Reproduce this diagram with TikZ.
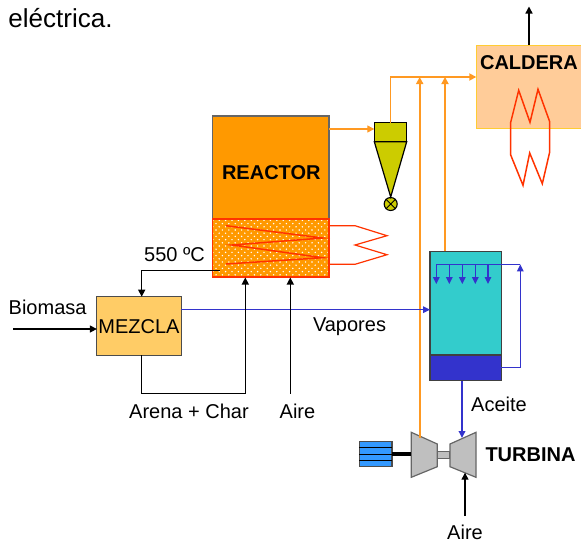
\documentclass[tikz,border=0pt]{standalone}
\usepackage{fontspec}
\setmainfont{Liberation Sans}
\usepackage{xcolor}
\usetikzlibrary{arrows.meta,patterns,calc}
\definecolor{reactorfill}{HTML}{FF9900}
\definecolor{ciclonfill}{HTML}{CCCC00}
\definecolor{calderafill}{HTML}{FFCC99}
\definecolor{calderaline}{HTML}{FFCC33}
\definecolor{mezclafill}{HTML}{FFCC66}
\definecolor{columnafill}{HTML}{33CCCC}
\definecolor{aceitefill}{HTML}{3333CC}
\definecolor{llama}{HTML}{FF3300}
\definecolor{linea}{HTML}{FF9922}
\definecolor{genfill}{HTML}{3399FF}
\pgfdeclarepatternformonly{lecho}{\pgfqpoint{-1pt}{-1pt}}{\pgfqpoint{7pt}{7pt}}{\pgfqpoint{6.4pt}{6.4pt}}{
	\pgfpathcircle{\pgfqpoint{1.6pt}{1.6pt}}{0.8pt}
	\pgfpathcircle{\pgfqpoint{4.8pt}{4.8pt}}{0.8pt}
	\pgfusepath{fill}
}
\tikzset{
	caja/.style={rectangle, draw, inner sep=0pt, outer sep=0pt, line width=1.2pt},
	txt/.style={inner sep=0pt, font=\fontsize{20}{22}\selectfont},
	btxt/.style={txt, font=\fontsize{20}{22}\selectfont\bfseries},
	neg/.style={line width=1.4pt, -{Triangle[length=7pt,width=7pt]}},
	nar/.style={draw=linea, line width=1.7pt, -{Triangle[length=7pt,width=7pt]}},
	azu/.style={draw=aceitefill, line width=1.4pt, -{Triangle[length=7pt,width=6.5pt]}},
	roj/.style={draw=llama, line width=1.5pt, line join=miter},
	turb/.style={draw=black!60, fill=black!25, line width=1.2pt}
}
\begin{document}
\begin{tikzpicture}[x=1pt,y=-1pt]
		\useasboundingbox (0,0) rectangle (581,542);
		% equipos
		\node at (270.7,167.5) [caja, draw=black!60, fill=reactorfill, minimum width=116.5pt, minimum height=103pt] (reactor) {};
		\node at (270.7,248) [caja, draw=none, fill=reactorfill, minimum width=116.5pt, minimum height=58pt] (fondolecho) {};
		\node at (270.7,248) [caja, draw=none, pattern=lecho, pattern color=white, minimum width=116.5pt, minimum height=58pt] (puntos) {};
		\node at (270.7,248) [caja, draw=llama, minimum width=116.5pt, minimum height=58pt] (lecho) {};
		\node at (139,326) [caja, draw=black!70, fill=mezclafill, minimum width=84.3pt, minimum height=58.3pt] (mezcla) {};
		\node at (390.5,132.2) [caja, fill=ciclonfill, minimum width=32.4pt, minimum height=19pt] (ciclon) {};
		\node at (390.7,204) [circle, draw, fill=ciclonfill, line width=1.1pt, inner sep=0pt, minimum size=13pt] (valvula) {};
		\node at (535,87) [caja, draw=calderaline, fill=calderafill, minimum width=117.4pt, minimum height=83.7pt] (caldera) {};
		\node at (465.7,303.2) [caja, draw=black!75, fill=columnafill, minimum width=71.3pt, minimum height=103.7pt] (columna) {};
		\node at (465.7,367.9) [caja, draw=black!75, fill=aceitefill, minimum width=71.3pt, minimum height=25.7pt] (fondo) {};
		\node at (375.7,454) [caja, draw=black!70, fill=genfill, minimum width=32.7pt, minimum height=25.7pt] (gen) {};
		% ciclon y valvula
		\draw [fill=ciclonfill, line width=1.2pt] (ciclon.south west) -- (ciclon.south east) -- (valvula.north) -- cycle;
		\draw [line width=0.9pt] (valvula.north west) -- (valvula.south east) (valvula.north east) -- (valvula.south west);
		% generador
		\draw [line width=1pt] ($(gen.west)+(0,-6.4)$) -- ($(gen.east)+(0,-6.4)$) (gen.west) -- (gen.east) ($(gen.west)+(0,6.4)$) -- ($(gen.east)+(0,6.4)$);
		% turbina
		\coordinate (tl) at (411.3,454);
		\node at (443.7,455) [caja, draw=black!60, fill=black!25, minimum width=12.7pt, minimum height=6.6pt] (eje) {};
		\draw [turb] (411.3,432.3) -- (437.3,444) -- (437.3,466.7) -- (411.3,477.3) -- cycle;
		\draw [turb] (476,432.3) -- (450,444) -- (450,466.7) -- (476,477.3) -- cycle;
		\draw [line width=3.5pt] (gen.east) -- (tl);
		% serpentin
		\draw [roj] (226,225.7) -- (322.7,238) -- (232,245) -- (322.7,257.7) -- (226,264);
		\draw [roj, line width=1.2pt] (lecho.east |- 0,264.3) -- (355,264.3) -- (387,254.7) -- (355,245) -- (387,235.7) -- (355,225.7) -- (lecho.east |- 0,225.7);
		% llama
		\draw [roj] (510.7,122.3) -- (518.7,90.3) -- (530,122.3) -- (538,89.3) -- (549.7,121.7) -- (549.7,152) -- (542.3,183.7) -- (529.7,153) -- (523,185.3) -- (510.7,155) -- cycle;
		% corrientes naranjas
		\coordinate (jun) at (390.5,77);
		\coordinate (j1) at (419.7,77);
		\coordinate (j2) at (445,77);
		\coordinate (tin) at (419.7,438);
		\draw [nar, line width=1.3pt] (reactor.east |- 0,129) -- (ciclon.west |- 0,129);
		\draw [nar] (ciclon.north) -- (jun) -- (caldera.west |- jun);
		\draw [nar] (tin) -- (j1);
		\draw [nar] (445,251.3) -- (j2);
		% corrientes azules
		\coordinate (hr) at (520.3,264.3);
		\coordinate (hl) at (436.3,264.3);
		\coordinate (rc) at (520.3,367.7);
		\draw [azu] (mezcla.east |- 0,309.7) -- (columna.west |- 0,309.7);
		\draw [azu] (fondo.east |- rc) -- (rc) -- (hr);
		\draw [azu, -] (hr) -- (hl);
		\foreach \x in {436.3,449.3,462.3,475.3,488} {
			\draw [azu] (\x,264.3) -- (\x,284);
		}
		\draw [azu, line width=1.7pt] (fondo.south -| 462,0) -- (462,438);
		% corrientes negras
		\coordinate (bio) at (13,329);
		\coordinate (sal) at (219.7,270.7);
		\coordinate (are) at (245.3,393.7);
		\coordinate (air) at (290.3,393.7);
		\coordinate (ait) at (465,516);
		\draw [neg] (bio) -- (mezcla.west |- bio);
		\draw [neg] (sal) -- (141.7,270.7) -- (141.7,296.7);
		\draw [neg] (141.7,355.2) -- (141.7,393.7) -- (are) -- (245.3,277.5);
		\draw [neg] (air) -- (290.3,277.5);
		\draw [neg] (ait) -- (465,472.7);
		\draw [neg] (529,45.2) -- (529,6.5);
		% textos
		\node at (60.5,18) [txt, font=\fontsize{26}{28}\selectfont] (elec) {eléctrica.};
		\node at (271.3,172.7) [btxt] (treactor) {REACTOR};
		\node at (529,63) [btxt] (tcaldera) {CALDERA};
		\node at (139,327) [txt] (tmezcla) {MEZCLA};
		\node at (47.6,307) [txt] (tbiomasa) {Biomasa};
		\node at (174.5,255) [txt] (ttemp) {550 ºC};
		\node at (189,411.7) [txt] (tarena) {Arena + Char};
		\node at (297.5,411.7) [txt] (taire) {Aire};
		\node at (349.5,327) [txt] (tvapores) {Vapores};
		\node at (499,404) [txt] (taceite) {Aceite};
		\node at (530.5,454.7) [btxt] (tturbina) {TURBINA};
		\node at (465,532) [txt] (taire2) {Aire};
		\end{tikzpicture}
\end{document}
